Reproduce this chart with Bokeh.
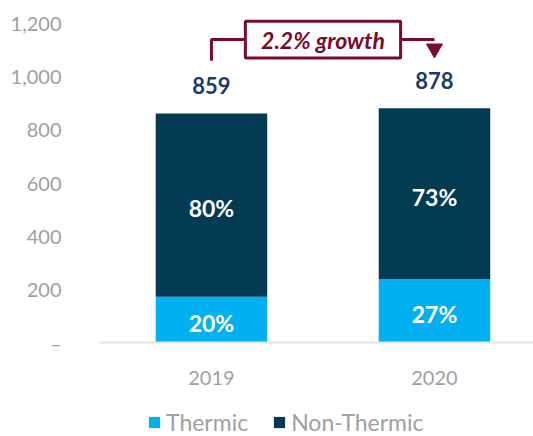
from bokeh.plotting import figure
from bokeh.layouts import column
from bokeh.models import (ColumnDataSource, Range1d, FixedTicker, NumeralTickFormatter,
                          Legend, LegendItem, Label)
from bokeh.embed import file_html
from bokeh.resources import INLINE
from bokeh.core.properties import value

# ---- data ----
years = ["2019", "2020"]
totals = [859, 878]
thermic_pct = [20, 27]
non_thermic_pct = [80, 73]
series_names = ["Thermic", "Non-Thermic"]
growth_label = "2.2% growth"
y_ticks = [0, 200, 400, 600, 800, 1000, 1200]

CYAN = "#00b0f0"
DARK = "#033a54"
NAVY = "#1b3a6b"
RED = "#7a0a2a"
GRAY = "#a0a0a0"
FONT = "Lato"

xs = list(range(len(years)))
thermic = [t * p / 100 for t, p in zip(totals, thermic_pct)]
non_thermic = [t - th for t, th in zip(totals, thermic)]

src = ColumnDataSource(dict(
    x=xs, thermic=thermic, total=totals,
    th_mid=[v / 2 for v in thermic],
    nt_mid=[th + nt / 2 for th, nt in zip(thermic, non_thermic)],
    th_lab=[f"{p}%" for p in thermic_pct],
    nt_lab=[f"{p}%" for p in non_thermic_pct],
    tot_lab=[str(t) for t in totals],
))

p = figure(width=533, height=390, output_backend="svg", toolbar_location=None,
           x_range=Range1d(-0.502, 1.444), y_range=Range1d(0, 1245),
           min_border_left=99, min_border_right=0, min_border_top=10,
           min_border_bottom=48, outline_line_color=None)
p.grid.visible = False

p.vbar(x="x", width=0.5, bottom=0, top="thermic", source=src,
       fill_color=CYAN, line_color=None)
p.vbar(x="x", width=0.5, bottom="thermic", top="total", source=src,
       fill_color=DARK, line_color=None)

# percent labels
for col, ycol in (("th_lab", "th_mid"), ("nt_lab", "nt_mid")):
    p.text(x="x", y=ycol, text=col, source=src, text_align="center",
           text_baseline="middle", text_color="white", text_font=value(FONT),
           text_font_style="bold", text_font_size="23px", y_offset=3)

# total labels
p.text(x="x", y="total", text="tot_lab", source=src, text_align="center",
       text_baseline="middle", text_color=NAVY, text_font=value(FONT),
       text_font_style="bold", text_font_size="22px", y_offset=-28)

# growth bracket
y_line = 1136
p.line([xs[0], xs[0], 0.152], [1057, y_line, y_line], line_color=RED, line_width=3)
p.line([0.848, xs[1]], [y_line, y_line], line_color=RED, line_width=3)
p.scatter([xs[1]], [1102], marker="inverted_triangle", size=16,
          fill_color=RED, line_color=RED)
p.quad(left=0.152, right=0.848, bottom=1067, top=1205, fill_color="white",
       line_color=RED, line_width=3)
p.add_layout(Label(x=0.5, y=1136, text=growth_label, text_align="center",
                   text_baseline="middle", text_color=RED, text_font=FONT,
                   text_font_style="bold italic", text_font_size="23px"))

# axes
p.yaxis.ticker = FixedTicker(ticks=y_ticks)
p.yaxis.formatter = NumeralTickFormatter(format="0,0")
p.yaxis.major_label_overrides = {0: "–"}
p.yaxis.axis_line_color = None
p.yaxis.major_tick_line_color = None
p.yaxis.minor_tick_line_color = None
p.yaxis.major_label_standoff = 32
p.yaxis.major_label_text_color = GRAY
p.yaxis.major_label_text_font = FONT
p.yaxis.major_label_text_font_size = "20px"

p.xaxis.ticker = FixedTicker(ticks=xs)
p.xaxis.major_label_overrides = {i: y for i, y in zip(xs, years)}
p.xaxis.axis_line_color = "#e4e4e4"
p.xaxis.axis_line_width = 2
p.xaxis.major_tick_line_color = None
p.xaxis.minor_tick_line_color = None
p.xaxis.major_label_standoff = 22
p.xaxis.major_label_text_color = GRAY
p.xaxis.major_label_text_font = FONT
p.xaxis.major_label_text_font_size = "20px"

# legend in a small companion figure below (its bars sit outside the visible range)
lg = figure(width=533, height=46, output_backend="svg", toolbar_location=None,
            x_range=Range1d(0, 1), y_range=Range1d(0, 1),
            min_border=0, outline_line_color=None)
lg.axis.visible = False
lg.grid.visible = False
hidden = ColumnDataSource(dict(x=[10], top=[1]))
r1 = lg.vbar(x="x", top="top", width=0.1, source=hidden, fill_color=CYAN, line_color=None)
r2 = lg.vbar(x="x", top="top", width=0.1, source=hidden, fill_color=DARK, line_color=None)
legend = Legend(items=[LegendItem(label=series_names[0], renderers=[r1]),
                       LegendItem(label=series_names[1], renderers=[r2])],
                orientation="horizontal", location=(48, 0),
                border_line_color=None, background_fill_alpha=0,
                label_text_font=FONT, label_text_font_size="23px",
                label_text_color=GRAY, glyph_width=14, glyph_height=14,
                spacing=24, label_standoff=5, padding=0, margin=0)
lg.add_layout(legend, "center")

open("out.html", "w").write(file_html(column(p, lg), INLINE))
